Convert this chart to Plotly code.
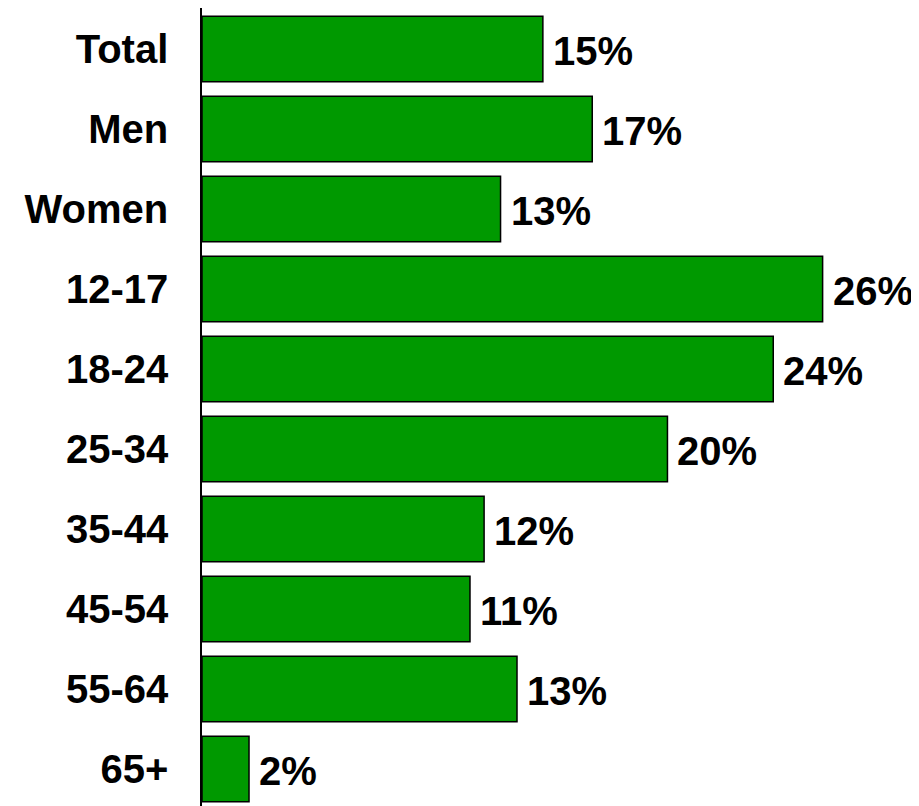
import plotly.graph_objects as go

# categories, top to bottom
groups = ['Total', 'Men', 'Women', '12-17', '18-24', '25-34', '35-44', '45-54', '55-64', '65+']
# bar lengths (percent)
shares = [14.5, 16.6, 12.7, 26.4, 24.3, 19.8, 12.0, 11.4, 13.4, 2.0]
# printed labels
share_labels = ['15%', '17%', '13%', '26%', '24%', '20%', '12%', '11%', '13%', '2%']

fig = go.Figure()
fig.add_trace(go.Bar(
    x=shares,
    y=groups,
    orientation='h',
    marker=dict(color='#009900', line=dict(color='#000000', width=1.5)),
    width=0.82,
    hoverinfo='skip'
))

for g, v, t in zip(groups, shares, share_labels):
    fig.add_annotation(
        x=v, y=g, text=t, showarrow=False,
        xanchor='left', xshift=8, yshift=-2,
        font=dict(family='Liberation Sans, Arial', size=40, color='#000000')
    )

# page body has an 8px margin, so the figure is sized to fit the window
fig.update_layout(
    width=911, height=798,
    paper_bgcolor='white',
    plot_bgcolor='white',
    showlegend=False,
    margin=dict(l=194, r=0, t=0, b=0),
    font=dict(family='Liberation Sans, Arial', color='#000000'),
    bargap=0.18
)

fig.update_xaxes(range=[0, 30.5], visible=False, showgrid=False, zeroline=False, automargin=False)
fig.update_yaxes(
    categoryorder='array', categoryarray=groups,
    range=[9.4625, -0.5125],
    automargin=False,
    showline=True, linecolor='#000000', linewidth=1.5,
    showgrid=False, zeroline=False, ticks='',
    ticklabelstandoff=24,
    tickfont=dict(family='Liberation Sans, Arial', size=40, color='#000000', weight='bold')
)
fig.update_annotations(font_weight='bold')

fig.write_html("out.html")
